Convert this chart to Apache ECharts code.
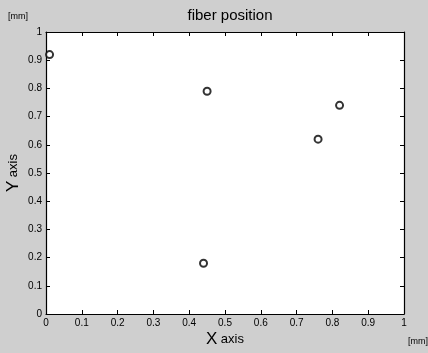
<!DOCTYPE html>
<html>
<head>
<meta charset="utf-8">
<script src="https://cdn.jsdelivr.net/npm/echarts@6/dist/echarts.min.js"></script>
<style>
  html, body { margin: 0; padding: 0; background: #cfcfcf; }
  #chart { width: 428px; height: 353px; }
</style>
</head>
<body>
<div id="chart"></div>
<script>
// fiber positions, in mm
var fiberX = [0.01, 0.45, 0.82, 0.76, 0.44];
var fiberY = [0.92, 0.79, 0.74, 0.62, 0.18];

var chartDom = document.getElementById('chart');
var myChart = echarts.init(chartDom);

var points = fiberX.map(function (x, i) {
    return [x, fiberY[i]];
});

var font = 'Liberation Sans, Arial, sans-serif';

var axisCommon = {
    type: 'value',
    min: 0,
    max: 1,
    interval: 0.1,
    axisLine: { show: true, onZero: false, lineStyle: { color: '#000', width: 1.2 } },
    axisTick: { show: true, inside: true, length: 4, lineStyle: { color: '#000' } },
    splitLine: { show: false }
};

var option = {
    backgroundColor: '#cfcfcf',
    title: {
        text: 'fiber position',
        left: 225,
        textAlign: 'center',
        top: 3,
        textStyle: { fontFamily: font, fontSize: 15, fontWeight: 'normal', color: '#000' }
    },
    grid: {
        left: 46,
        right: 24,
        top: 32,
        bottom: 39,
        outerBoundsMode: 'none',
        show: true,
        backgroundColor: '#fff',
        borderWidth: 0
    },
    xAxis: [
        Object.assign({}, axisCommon, {
            position: 'bottom',
            axisLabel: { color: '#000', fontFamily: font, fontSize: 10, margin: 4 },
            name: '{big|X} {small|axis}',
            nameLocation: 'middle',
            nameGap: 17,
            nameMoveOverlap: false,
            nameTextStyle: {
                rich: {
                    big: { fontSize: 17, fontFamily: font, color: '#000' },
                    small: { fontSize: 13, fontFamily: font, color: '#000' }
                }
            }
        }),
        Object.assign({}, axisCommon, {
            position: 'top',
            axisLabel: { show: false }
        })
    ],
    yAxis: [
        Object.assign({}, axisCommon, {
            position: 'left',
            axisLabel: { color: '#000', fontFamily: font, fontSize: 10, margin: 4 },
            name: '{big|Y} {small|axis}',
            nameLocation: 'middle',
            nameGap: 24,
            nameMoveOverlap: false,
            nameRotate: 90,
            nameTextStyle: {
                rich: {
                    big: { fontSize: 17, fontFamily: font, color: '#000' },
                    small: { fontSize: 13, fontFamily: font, color: '#000' }
                }
            }
        }),
        Object.assign({}, axisCommon, {
            position: 'right',
            axisLabel: { show: false }
        })
    ],
    graphic: [
        {
            type: 'text',
            left: 8,
            top: 12,
            style: { text: '[mm]', fontFamily: font, fontSize: 9, fill: '#000' }
        },
        {
            type: 'text',
            left: 408,
            top: 337,
            style: { text: '[mm]', fontFamily: font, fontSize: 9, fill: '#000' }
        }
    ],
    series: [
        {
            type: 'scatter',
            xAxisIndex: 0,
            yAxisIndex: 0,
            symbol: 'emptyCircle',
            symbolSize: 7,
            itemStyle: { color: '#000', borderColor: '#000', borderWidth: 1.6 },
            data: points
        }
    ]
};

option && myChart.setOption(option);
</script>
</body>
</html>
